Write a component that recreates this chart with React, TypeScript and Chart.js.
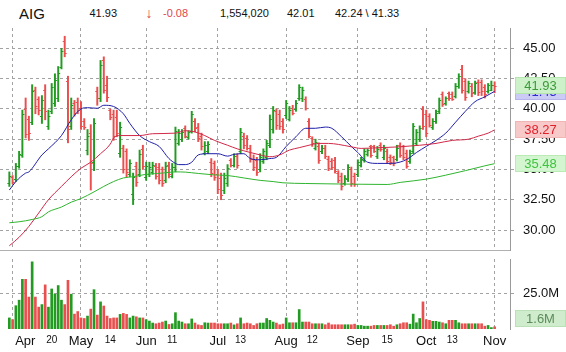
import React, { useEffect, useRef } from "react";
import { Chart, registerables } from "chart.js";

Chart.register(...registerables);

const FONT = '"Liberation Sans", Arial, Helvetica, sans-serif';

// ---- daily bars, Mar 31 .. Nov 1 (index 0..149) ----
const opens = [
  33.9, 34.4, 34.2, 35.3, 36.2, 40.0, 39.2, 38.9, 41.6, 40.8, 39.4, 41.6, 38.6, 39.8, 40.5, 40.9, 43.5, 45.6, 42.3, 38.6,
  40.5, 40.6, 40.1, 39.0, 36.6, 38.0, 35.6, 41.5, 40.9, 44.0, 42.0, 39.9, 39.6, 39.3, 36.4, 36.8, 36.5, 34.6, 33.0, 35.3,
  34.6, 36.7, 34.4, 34.6, 34.8, 35.3, 35.2, 35.0, 34.1, 35.4, 34.5, 35.2, 37.2, 37.5, 38.4, 37.7, 38.2, 39.0, 38.5, 37.8,
  36.4, 36.5, 35.6, 35.5, 34.6, 34.3, 33.3, 33.9, 35.8, 35.4, 36.1, 36.5, 37.8, 37.6, 36.8, 35.9, 35.8, 35.0, 35.7, 36.0,
  37.0, 38.3, 39.8, 39.6, 39.0, 39.5, 39.2, 40.1, 40.0, 40.9, 40.9, 40.8, 39.0, 37.6, 36.8, 36.9, 36.5, 36.8, 35.9, 35.7,
  35.8, 34.7, 34.5, 33.9, 34.2, 35.0, 34.5, 34.6, 35.4, 35.8, 36.3, 36.9, 36.9, 36.1, 37.0, 36.0, 36.5, 36.0, 36.0, 35.9,
  37.0, 36.9, 36.4, 35.7, 36.5, 37.2, 37.5, 40.0, 39.6, 39.4, 38.5, 39.0, 39.8, 41.2, 40.5, 41.3, 41.2, 41.1, 41.9, 43.3,
  42.3, 41.5, 41.9, 41.4, 42.2, 42.2, 41.8, 41.5, 41.6, 42.01,
];
const highs = [
  34.8, 34.5, 35.5, 36.5, 39.9, 40.9, 39.4, 42.0, 41.8, 41.0, 41.1, 42.0, 39.9, 42.1, 42.9, 43.5, 45.0, 46.0, 42.7, 40.9,
  40.7, 40.9, 40.6, 39.2, 38.3, 38.7, 39.2, 41.8, 44.0, 44.3, 42.7, 40.0, 39.9, 39.9, 38.9, 37.0, 36.7, 35.8, 34.7, 35.6,
  36.6, 37.0, 35.6, 35.6, 35.6, 35.5, 35.5, 35.2, 35.6, 35.6, 35.5, 38.5, 38.3, 38.3, 38.6, 38.2, 39.8, 39.2, 38.8, 38.0,
  37.3, 37.3, 35.9, 35.7, 35.0, 34.7, 34.7, 35.4, 35.9, 36.3, 36.3, 38.4, 38.0, 37.8, 37.0, 36.2, 36.0, 36.3, 36.7, 37.4,
  39.5, 40.2, 40.0, 39.9, 39.2, 40.7, 40.2, 40.3, 40.7, 42.0, 41.8, 41.0, 39.2, 37.7, 37.5, 37.2, 37.0, 37.0, 36.1, 35.9,
  36.0, 34.9, 34.7, 34.5, 35.4, 35.2, 34.7, 35.8, 36.0, 36.7, 36.7, 37.0, 37.0, 36.9, 37.2, 37.0, 36.7, 36.2, 36.1, 37.0,
  37.2, 37.0, 36.6, 36.6, 38.8, 38.3, 38.6, 40.2, 39.9, 39.6, 39.2, 39.9, 40.9, 41.4, 41.0, 41.4, 41.4, 42.1, 42.9, 43.6,
  42.5, 42.3, 42.1, 42.3, 42.4, 42.4, 42.0, 42.1, 42.3, 42.24,
];
const lows = [
  33.6, 33.8, 34.0, 35.1, 36.0, 37.6, 37.4, 38.7, 39.6, 39.5, 38.8, 39.1, 38.3, 39.6, 40.2, 40.6, 43.3, 44.3, 37.2, 38.3,
  39.4, 39.6, 38.3, 38.3, 36.2, 33.3, 34.9, 40.3, 40.6, 41.3, 40.6, 39.1, 37.4, 37.7, 36.0, 34.7, 34.4, 34.4, 32.1, 33.6,
  34.4, 35.0, 34.1, 34.4, 34.6, 34.2, 33.8, 33.6, 33.9, 34.3, 34.3, 34.8, 37.0, 37.3, 37.6, 37.5, 38.0, 38.1, 37.3, 36.6,
  36.2, 36.3, 34.4, 34.1, 33.0, 32.5, 33.0, 33.6, 35.2, 35.2, 35.1, 36.3, 36.7, 36.6, 35.6, 34.9, 34.5, 34.8, 35.5, 35.8,
  36.8, 38.0, 38.3, 38.3, 38.0, 39.2, 39.0, 39.5, 39.8, 40.7, 40.6, 39.9, 37.6, 36.9, 36.6, 35.5, 36.3, 35.9, 34.9, 35.0,
  34.7, 33.9, 33.3, 33.7, 34.0, 33.6, 33.6, 34.4, 35.2, 35.6, 36.1, 36.0, 36.4, 35.9, 36.5, 35.8, 35.5, 35.4, 35.3, 35.7,
  36.0, 35.8, 35.1, 35.5, 36.3, 37.0, 37.3, 38.3, 37.7, 38.5, 38.3, 38.8, 39.6, 40.2, 40.3, 40.7, 40.7, 40.9, 41.7, 41.3,
  40.7, 41.3, 41.0, 41.2, 41.1, 41.1, 40.9, 41.3, 41.5, 41.33,
];
const closes = [
  34.5, 34.0, 35.3, 36.3, 39.6, 37.9, 38.0, 41.5, 40.2, 39.9, 40.7, 39.8, 39.4, 41.8, 42.4, 43.0, 44.8, 44.6, 38.3, 40.3,
  39.7, 39.9, 38.6, 38.5, 37.8, 35.5, 38.8, 40.9, 43.6, 41.6, 41.0, 39.3, 37.8, 38.0, 38.5, 35.0, 34.8, 35.5, 34.4, 34.0,
  36.3, 35.3, 35.3, 35.2, 35.4, 34.5, 34.1, 33.9, 35.3, 34.6, 35.2, 38.2, 38.0, 38.1, 37.8, 38.1, 39.6, 38.4, 37.6, 36.9,
  37.0, 37.1, 34.7, 34.4, 33.4, 32.9, 34.3, 35.1, 35.4, 36.1, 35.4, 38.1, 37.0, 36.8, 35.9, 35.2, 34.8, 36.0, 36.5, 37.2,
  39.2, 39.9, 38.7, 38.6, 38.3, 40.5, 39.9, 39.7, 40.5, 41.8, 41.6, 40.1, 37.8, 37.2, 37.3, 35.8, 36.8, 36.1, 35.1, 35.2,
  34.9, 34.1, 33.6, 34.3, 35.2, 33.9, 33.8, 35.6, 35.9, 36.5, 36.6, 36.2, 36.5, 36.7, 36.7, 36.8, 35.7, 35.6, 35.5, 36.8,
  36.2, 36.0, 35.3, 36.4, 38.6, 38.1, 38.4, 38.6, 38.0, 38.7, 39.0, 39.7, 40.7, 40.4, 40.9, 40.9, 40.8, 41.9, 42.7, 41.6,
  41.0, 42.1, 41.3, 42.1, 41.4, 41.5, 41.2, 42.0, 42.01, 41.93,
];
// volume, millions of shares
const volumes = [
  7.8, 6.6, 16.4, 20.3, 35.0, 35.0, 22.5, 47.3, 22.5, 15.4, 17.2, 31.1, 15.4, 28.2, 24.5, 30.6, 20.3, 17.2, 34.3, 24.5,
  10.5, 12.3, 7.8, 7.4, 9.1, 14.0, 27.7, 9.8, 19.1, 16.2, 9.1, 7.4, 7.8, 7.8, 10.3, 11.0, 10.3, 7.8, 9.1, 8.6,
  7.8, 7.8, 6.6, 5.6, 4.2, 3.7, 4.2, 4.9, 5.6, 3.2, 3.7, 11.5, 5.6, 4.9, 3.7, 3.7, 7.1, 4.2, 2.9, 2.5,
  4.4, 4.2, 4.2, 4.2, 3.7, 3.7, 3.7, 3.7, 4.2, 2.9, 3.7, 7.8, 3.7, 4.2, 3.7, 2.5, 3.7, 4.2, 4.2, 7.4,
  6.1, 4.9, 4.2, 3.0, 3.5, 7.8, 4.4, 4.4, 4.4, 13.7, 4.9, 4.9, 4.9, 3.7, 3.7, 3.7, 3.7, 3.0, 4.2, 3.0,
  3.0, 3.0, 3.0, 3.0, 3.0, 3.0, 3.4, 2.5, 2.5, 2.0, 2.0, 2.0, 2.5, 2.5, 2.5, 2.5, 2.5, 3.0, 2.0, 3.0,
  3.7, 4.4, 4.4, 3.4, 10.5, 4.4, 7.4, 19.1, 6.6, 6.1, 5.4, 5.4, 4.9, 4.4, 3.7, 6.1, 6.1, 6.1, 4.4, 3.7,
  3.7, 3.7, 3.7, 3.7, 3.7, 3.7, 2.0, 2.5, 1.0, 1.55,
];

// ---- moving averages: [bar index, value] ----
const maBlue: [number, number][] = [
  [0, 33.3], [2, 34.0], [5, 34.7], [6, 34.8], [10, 36.2], [12, 36.7], [16, 37.8], [19, 39.1], [22, 40.0], [24, 40.1],
  [27, 40.05], [29, 40.3], [32, 40.2], [35, 39.6], [37, 38.8], [40, 37.8], [43, 37.3], [46, 36.9], [49, 35.9], [51, 35.5],
  [52, 35.4], [54, 35.4], [56, 35.6], [58, 36.2], [61, 36.3], [64, 36.3], [67, 36.1], [69, 36.25], [72, 36.3], [74, 35.9],
  [77, 35.8], [80, 35.9], [82, 36.0], [85, 36.9], [88, 37.7], [91, 38.4], [94, 38.4], [97, 38.5], [99, 38.4], [102, 37.7],
  [105, 36.9], [107, 36.4], [110, 35.6], [113, 35.5], [117, 35.5], [121, 35.7], [123, 36.0], [125, 36.4], [128, 36.9],
  [131, 37.4], [134, 38.0], [137, 38.9], [140, 39.8], [143, 40.6], [146, 41.0], [149, 41.45],
];
const maRed: [number, number][] = [
  [0, 28.7], [3, 29.4], [6, 30.3], [9, 31.4], [12, 32.5], [16, 33.6], [19, 34.4], [22, 35.1], [25, 35.6], [28, 36.3],
  [31, 37.1], [32, 37.6], [34, 37.8], [40, 37.8], [44, 37.95], [51, 38.0], [54, 38.2], [57, 38.1], [60, 37.8], [63, 37.4],
  [67, 37.0], [70, 36.7], [74, 36.4], [77, 36.2], [80, 36.05], [83, 36.2], [86, 36.6], [89, 36.8], [92, 37.0], [95, 37.15],
  [98, 37.15], [101, 37.07], [105, 36.87], [108, 36.74], [114, 36.8], [120, 36.87], [126, 37.0], [131, 37.15], [136, 37.4],
  [141, 37.5], [144, 37.75], [147, 38.0], [149, 38.27],
];
const maGreen: [number, number][] = [
  [0, 30.6], [3, 30.68], [7, 30.87], [10, 31.1], [12, 31.5], [16, 31.9], [19, 32.3], [22, 32.6], [26, 33.15], [29, 33.6],
  [32, 34.0], [35, 34.3], [38, 34.4], [42, 34.6], [47, 34.7], [51, 34.8], [54, 34.78], [58, 34.67], [63, 34.55], [67, 34.5],
  [72, 34.3], [77, 34.1], [81, 34.0], [84, 33.9], [91, 33.84], [101, 33.8], [108, 33.78], [116, 33.76], [120, 33.93],
  [128, 34.2], [134, 34.53], [140, 34.9], [146, 35.3], [149, 35.48],
];

// ---- axes ----
const dateTickIndex = [1, 13, 22, 31, 42, 50, 64, 71, 85, 93, 107, 116, 128, 136, 149];
const dateTickLabels = ["Apr", "20", "May", "14", "Jun", "11", "Jul", "13", "Aug", "12", "Sep", "15", "Oct", "13", "Nov"];
const monthLabels = ["Apr", "May", "Jun", "Jul", "Aug", "Sep", "Oct", "Nov"];
const priceTicks = [30, 32.5, 35, 37.5, 40, 42.5, 45];
const volumeTicks = [25];

const header = {
  symbol: "AIG",
  last: "41.93",
  change: "-0.08",
  volume: "1,554,020",
  open: "42.01",
  range: "42.24 \\ 41.33",
};

const X_MIN = -2.87;
const X_MAX = 153.72;
const P_MIN = 28.35;
const P_MAX = 46.68;
const V_MAX = 49.3;

const UP = "#239b23";
const DOWN = "#ea4f4f";
const GRID = "#a2a2a2";
const AXIS = "#9a9a9a";

const labelFor = (v: number) => {
  const k = dateTickIndex.indexOf(v);
  return k >= 0 ? dateTickLabels[k] : "";
};
const isMonth = (v: number) => monthLabels.includes(labelFor(v));
const isUp = (i: number) => closes[i] >= opens[i];

function drawTag(chart: any, value: number, text: string, bg: string, border: string, fg: string) {
  const { ctx, chartArea } = chart;
  const y = chart.scales.y;
  const x0 = chartArea.right + 5;
  const w = chart.width - x0;
  const h = 17;
  let cy = y.getPixelForValue(value);
  cy = Math.min(cy, chartArea.bottom - h / 2 - 2);
  const top = Math.round(cy - h / 2);
  ctx.save();
  ctx.fillStyle = bg;
  ctx.fillRect(x0, top, w, h);
  ctx.setLineDash([1, 1]);
  ctx.strokeStyle = border;
  ctx.lineWidth = 1;
  ctx.strokeRect(x0 + 0.5, top + 0.5, w - 1, h - 1);
  ctx.setLineDash([]);
  ctx.fillStyle = fg;
  ctx.font = `13px ${FONT}`;
  ctx.textAlign = "center";
  ctx.textBaseline = "middle";
  ctx.fillText(text, x0 + w / 2, top + h / 2 + 0.5);
  ctx.restore();
}

const ohlcTicksPlugin = {
  id: "ohlcTicks",
  afterDatasetDraw(chart: any, args: any) {
    if (args.index !== 0) return;
    const { ctx } = chart;
    const xs = chart.scales.x;
    const ys = chart.scales.y;
    ctx.save();
    ctx.lineWidth = 1;
    for (let i = 0; i < closes.length; i++) {
      const px = xs.getPixelForValue(i);
      ctx.strokeStyle = isUp(i) ? UP : DOWN;
      const yo = Math.round(ys.getPixelForValue(opens[i])) + 0.5;
      const yc = Math.round(ys.getPixelForValue(closes[i])) + 0.5;
      ctx.beginPath();
      ctx.moveTo(px - 2, yo);
      ctx.lineTo(px, yo);
      ctx.moveTo(px, yc);
      ctx.lineTo(px + 2, yc);
      ctx.stroke();
    }
    ctx.restore();
  },
};

const priceTagsPlugin = {
  id: "priceTags",
  afterDraw(chart: any) {
    const last = (a: [number, number][]) => a[a.length - 1][1];
    drawTag(chart, last(maBlue), last(maBlue).toFixed(2), "#cbcbf6", "#9f9fe0", "#2a2ad0");
    drawTag(chart, closes[closes.length - 1], closes[closes.length - 1].toFixed(2), "#cdf1c8", "#98d890", "#3c9a3c");
    drawTag(chart, last(maRed), last(maRed).toFixed(2), "#f8c9c9", "#eaa0a0", "#e3202a");
    drawTag(chart, last(maGreen), last(maGreen).toFixed(2), "#d3f5d0", "#a0e09a", "#3fc43f");
  },
};

const volumeTagPlugin = {
  id: "volumeTag",
  afterDraw(chart: any) {
    const v = volumes[volumes.length - 1];
    drawTag(chart, v, v.toFixed(1) + "M", "#cfeccc", "#a4d4a0", "#5d8c5d");
  },
};

const lineDs = (pts: [number, number][], color: string) => ({
  type: "line" as const,
  data: pts.map(([x, y]) => ({ x, y })),
  borderColor: color,
  borderWidth: 1,
  pointRadius: 0,
  cubicInterpolationMode: "monotone" as const,
  order: 1,
});

const dateTicksBuilder = (scale: any) => {
  scale.ticks = dateTickIndex.map((v) => ({ value: v }));
};

const rightAxisFit = (s: any) => {
  s.width = 56;
  s.paddingTop = 0;
  s.paddingBottom = 0;
};

export default function App() {
  const priceRef = useRef<HTMLCanvasElement>(null);
  const volRef = useRef<HTMLCanvasElement>(null);

  useEffect(() => {
    Chart.defaults.font.family = FONT;
    Chart.defaults.color = "#111";

    const price = new Chart(priceRef.current as HTMLCanvasElement, {
      type: "bar",
      data: {
        datasets: [
          {
            type: "bar",
            data: highs.map((h, i) => ({ x: i, y: [lows[i], h] })) as any,
            backgroundColor: closes.map((_, i) => (isUp(i) ? UP : DOWN)),
            barThickness: 1.3,
            borderWidth: 0,
            order: 2,
          },
          lineDs(maGreen, "#2fb52f"),
          lineDs(maRed, "#d02848"),
          lineDs(maBlue, "#1e1ea8"),
        ] as any,
      },
      options: {
        responsive: false,
        animation: false,
        events: [],
        layout: { padding: { top: 28, bottom: 2, left: 0, right: 0 } },
        plugins: { legend: { display: false }, tooltip: { enabled: false } },
        scales: {
          x: {
            type: "linear",
            min: X_MIN,
            max: X_MAX,
            offset: false,
            afterBuildTicks: dateTicksBuilder,
            afterFit: (s: any) => {
              s.paddingLeft = 0;
              s.paddingRight = 0;
            },
            ticks: { display: false, autoSkip: false },
            grid: {
              offset: false,
              drawTicks: false,
              color: (c: any) => (c.tick && isMonth(c.tick.value) ? GRID : "rgba(0,0,0,0)"),
            },
            border: { display: true, color: "#b0b0b0", dash: [3, 3] },
          },
          y: {
            type: "linear",
            position: "right",
            min: P_MIN,
            max: P_MAX,
            afterBuildTicks: (s: any) => {
              s.ticks = priceTicks.map((v) => ({ value: v }));
            },
            afterFit: rightAxisFit,
            ticks: {
              padding: 8,
              color: "#111",
              font: { size: 13, family: FONT },
              callback: (v: any) => Number(v).toFixed(2),
            },
            grid: { color: GRID, tickLength: 5, tickColor: GRID, tickBorderDash: [3, 3] },
            border: { display: true, color: AXIS, dash: [3, 3] },
          },
        },
      } as any,
      plugins: [ohlcTicksPlugin, priceTagsPlugin],
    });

    const volume = new Chart(volRef.current as HTMLCanvasElement, {
      type: "bar",
      data: {
        datasets: [
          {
            type: "bar",
            data: volumes.map((v, i) => ({ x: i, y: v })) as any,
            backgroundColor: volumes.map((_, i) => (isUp(i) ? UP : DOWN)),
            barThickness: 2,
            borderWidth: 0,
          },
        ] as any,
      },
      options: {
        responsive: false,
        animation: false,
        events: [],
        layout: { padding: { top: 7, bottom: 0, left: 0, right: 0 } },
        plugins: { legend: { display: false }, tooltip: { enabled: false } },
        scales: {
          x: {
            type: "linear",
            min: X_MIN,
            max: X_MAX,
            offset: false,
            afterBuildTicks: dateTicksBuilder,
            afterFit: (s: any) => {
              s.height = 23;
              s.paddingLeft = 0;
              s.paddingRight = 0;
            },
            ticks: {
              autoSkip: false,
              maxRotation: 0,
              minRotation: 0,
              padding: 5,
              color: "#111",
              font: (c: any) => ({ family: FONT, size: c.tick && isMonth(c.tick.value) ? 13 : 10 }),
              callback: (v: any) => {
                const t = labelFor(Number(v));
                return Number(v) === dateTickIndex[0] ? "       " + t : t;
              },
            },
            grid: {
              offset: false,
              drawTicks: false,
              color: (c: any) => (c.tick && isMonth(c.tick.value) ? GRID : "rgba(0,0,0,0)"),
            },
            border: { display: false, dash: [3, 3] },
          },
          y: {
            type: "linear",
            position: "right",
            min: 0,
            max: V_MAX,
            afterBuildTicks: (s: any) => {
              s.ticks = volumeTicks.map((v) => ({ value: v }));
            },
            afterFit: rightAxisFit,
            ticks: {
              padding: 8,
              color: "#111",
              font: { size: 13, family: FONT },
              callback: (v: any) => Number(v).toFixed(1) + "M",
            },
            grid: { color: GRID, tickLength: 5, tickColor: GRID, tickBorderDash: [3, 3] },
            border: { display: true, color: AXIS, dash: [3, 3] },
          },
        },
      } as any,
      plugins: [volumeTagPlugin],
    });

    return () => {
      price.destroy();
      volume.destroy();
    };
  }, []);

  const txt = (left: number, baseline: number, size: number, color: string, s: string) => (
    <span
      style={{
        position: "absolute",
        left,
        top: baseline - size * 0.8465,
        fontSize: size,
        lineHeight: `${size}px`,
        color,
        whiteSpace: "pre",
        fontFamily: FONT,
      }}
    >
      {s}
    </span>
  );

  return (
    <div style={{ position: "absolute", left: 0, top: 0, width: 566, height: 352, background: "#fff", overflow: "hidden" }}>
      {txt(19, 18.3, 15, "#111", header.symbol)}
      {txt(89.5, 17.3, 11, "#111", header.last)}
      {txt(145.5, 18, 14, "#e0474c", "\u2193")}
      {txt(163, 17.3, 11, "#e0474c", header.change)}
      {txt(220, 17.3, 11, "#111", header.volume)}
      {txt(287, 17.3, 11, "#111", header.open)}
      {txt(335, 17.3, 11, "#111", header.range)}
      <canvas ref={priceRef} width={566} height={252} style={{ position: "absolute", left: 0, top: 0 }} />
      <canvas ref={volRef} width={566} height={100} style={{ position: "absolute", left: 0, top: 252 }} />
    </div>
  );
}
